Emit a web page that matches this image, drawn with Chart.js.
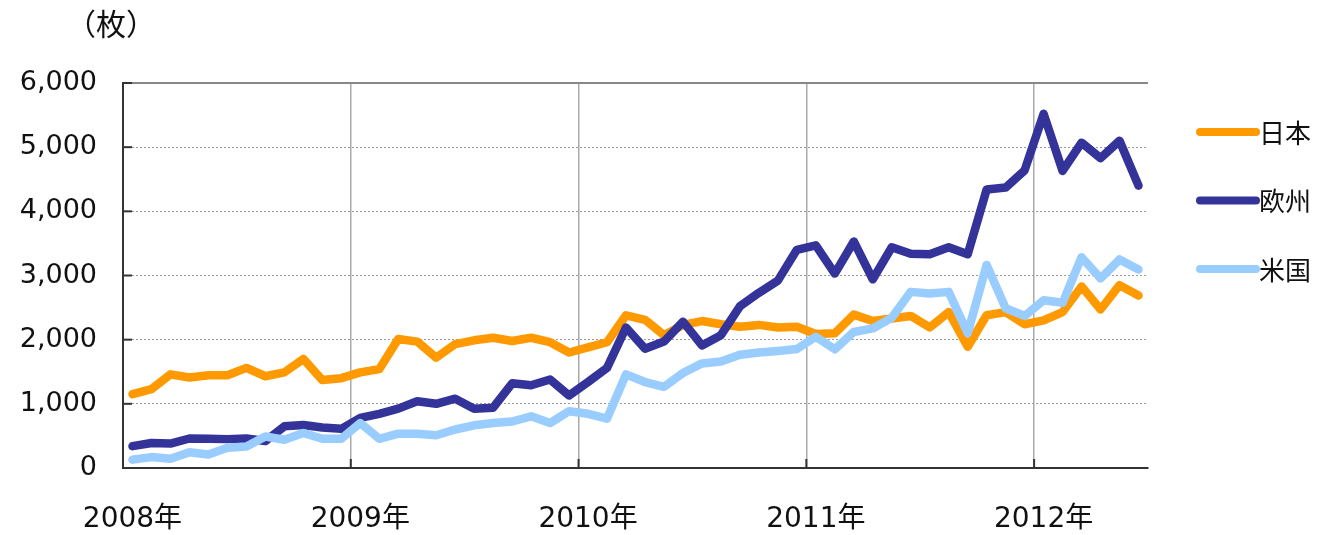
<!DOCTYPE html>
<html>
<head>
<meta charset="utf-8">
<script src="https://cdn.jsdelivr.net/npm/chart.js@4/dist/chart.umd.min.js"></script>
<style>
  body { margin: 0; background: #fff; }
  #wrap { width: 1317px; height: 535px; }
</style>
</head>
<body>
<div id="wrap"><canvas id="chart" width="1317" height="535"></canvas></div>
<script>
// 月次データ 2008年1月〜2012年6月
const years = ['2008年', '2009年', '2010年', '2011年', '2012年'];
const months = [];
years.forEach(y => { for (let m = 1; m <= 12; m++) months.push(y + m + '月'); });
months.length = 54;

const seriesNames = ['日本', '欧州', '米国'];
const seriesColors = ['#ff9900', '#333399', '#99ccff'];

const japan = [
  1150, 1230, 1460, 1410, 1445, 1445, 1560, 1430, 1490, 1700,
  1370, 1400, 1490, 1540, 2010, 1970, 1720, 1930, 1990, 2030,
  1980, 2030, 1960, 1800, 1880, 1960, 2380, 2310, 2070, 2230,
  2290, 2240, 2200, 2230, 2190, 2200, 2090, 2100, 2390, 2290,
  2330, 2370, 2190, 2430, 1890, 2380, 2430, 2240, 2300, 2430,
  2830, 2470, 2850, 2690
];
const europe = [
  340, 390, 380, 460, 455, 450, 460, 420, 650, 670,
  630, 610, 780, 845, 925, 1040, 1000, 1080, 925, 940,
  1320, 1290, 1380, 1130, 1340, 1560, 2190, 1860, 1970, 2280,
  1910, 2070, 2520, 2730, 2920, 3400, 3470, 3030, 3530, 2940,
  3440, 3340, 3330, 3440, 3330, 4340, 4370, 4640, 5520, 4630,
  5070, 4830, 5100, 4400
];
const usa = [
  130, 170, 145, 245, 210, 315, 335, 490, 440, 545,
  455, 455, 700, 455, 535, 535, 510, 600, 665, 700,
  725, 805, 700, 885, 845, 770, 1460, 1340, 1265, 1480,
  1630, 1660, 1765, 1800, 1825, 1855, 2045, 1850, 2120, 2175,
  2340, 2745, 2720, 2745, 2100, 3165, 2490, 2370, 2615, 2575,
  3285, 2955, 3250, 3095
];
const yTicks = [0, 1000, 2000, 3000, 4000, 5000, 6000];

const fontNum = "'DejaVu Sans', 'Noto Sans CJK JP', sans-serif";
const fontJa = "'Noto Sans CJK JP', sans-serif";

// 枠線・目盛り・凡例・単位
const decor = {
  id: 'decor',
  afterDraw(chart) {
    const ctx = chart.ctx;
    const a = chart.chartArea;
    const xs = chart.scales.x, ys = chart.scales.y;
    ctx.save();
    // 内向きの目盛り
    ctx.strokeStyle = '#333';
    ctx.lineWidth = 2;
    yTicks.forEach(v => {
      const y = ys.getPixelForValue(v);
      ctx.beginPath(); ctx.moveTo(a.left, y); ctx.lineTo(a.left + 9, y); ctx.stroke();
    });
    for (let i = 12; i < months.length; i += 12) {
      const x = (xs.getPixelForValue(i - 1) + xs.getPixelForValue(i)) / 2;
      ctx.beginPath(); ctx.moveTo(x, a.bottom); ctx.lineTo(x, a.bottom - 9); ctx.stroke();
    }
    // 単位
    ctx.fillStyle = '#111';
    ctx.font = '30px ' + fontJa;
    ctx.textBaseline = 'middle';
    ctx.textAlign = 'left';
    ctx.fillText('（枚）', 66, 24);
    // 凡例
    ctx.font = '26px ' + fontJa;
    chart.data.datasets.forEach((ds, i) => {
      const y = 132 + i * 68.5;
      ctx.strokeStyle = ds.borderColor;
      ctx.lineWidth = 8;
      ctx.lineCap = 'round';
      ctx.beginPath(); ctx.moveTo(1200, y); ctx.lineTo(1256, y); ctx.stroke();
      ctx.fillStyle = '#111';
      ctx.fillText(ds.label, 1259, y + 1);
    });
    ctx.restore();
  }
};

new Chart(document.getElementById('chart'), {
  type: 'line',
  data: {
    labels: months,
    datasets: [
      { label: seriesNames[0], data: japan, borderColor: seriesColors[0], order: 2 },
      { label: seriesNames[1], data: europe, borderColor: seriesColors[1], order: 1 },
      { label: seriesNames[2], data: usa, borderColor: seriesColors[2], order: 0 }
    ].map(d => Object.assign(d, {
      borderWidth: 8.5, pointRadius: 0, tension: 0, fill: false,
      borderJoinStyle: 'round', borderCapStyle: 'round'
    }))
  },
  options: {
    responsive: false,
    animation: false,
    layout: { padding: { top: 83, right: 169, bottom: 0, left: 0 } },
    plugins: { legend: { display: false }, tooltip: { enabled: false } },
    scales: {
      x: {
        offset: true,
        grid: {
          offset: true,
          drawTicks: false,
          lineWidth: 1.5,
          color: c => (c.index === months.length ? '#888' : (c.index % 12 === 0 && c.index > 0 ? '#aaa' : 'rgba(0,0,0,0)'))
        },
        border: { color: '#333', width: 2 },
        ticks: {
          autoSkip: false, maxRotation: 0, padding: 35,
          color: '#111', font: { size: 28, family: fontNum },
          callback: (v, i) => (i % 12 === 0 ? years[i / 12] : '')
        },
        afterFit: s => { s.height = 67; }
      },
      y: {
        min: 0, max: 6000,
        afterBuildTicks: s => { s.ticks = yTicks.map(v => ({ value: v })); },
        grid: {
          drawTicks: false,
          lineWidth: c => (c.index === 6 ? 2 : 1),
          color: c => (c.index === 6 ? '#888' : (c.index === 0 ? 'rgba(0,0,0,0)' : '#999'))
        },
        border: { color: '#333', width: 2, dash: c => (c.index === 6 ? [] : [2, 2]) },
        ticks: {
          padding: 26, color: '#111', font: { size: 27, family: fontNum },
          callback: v => v.toLocaleString('en-US')
        },
        afterFit: s => { s.width = 123; }
      }
    }
  },
  plugins: [decor]
});
</script>
</body>
</html>
